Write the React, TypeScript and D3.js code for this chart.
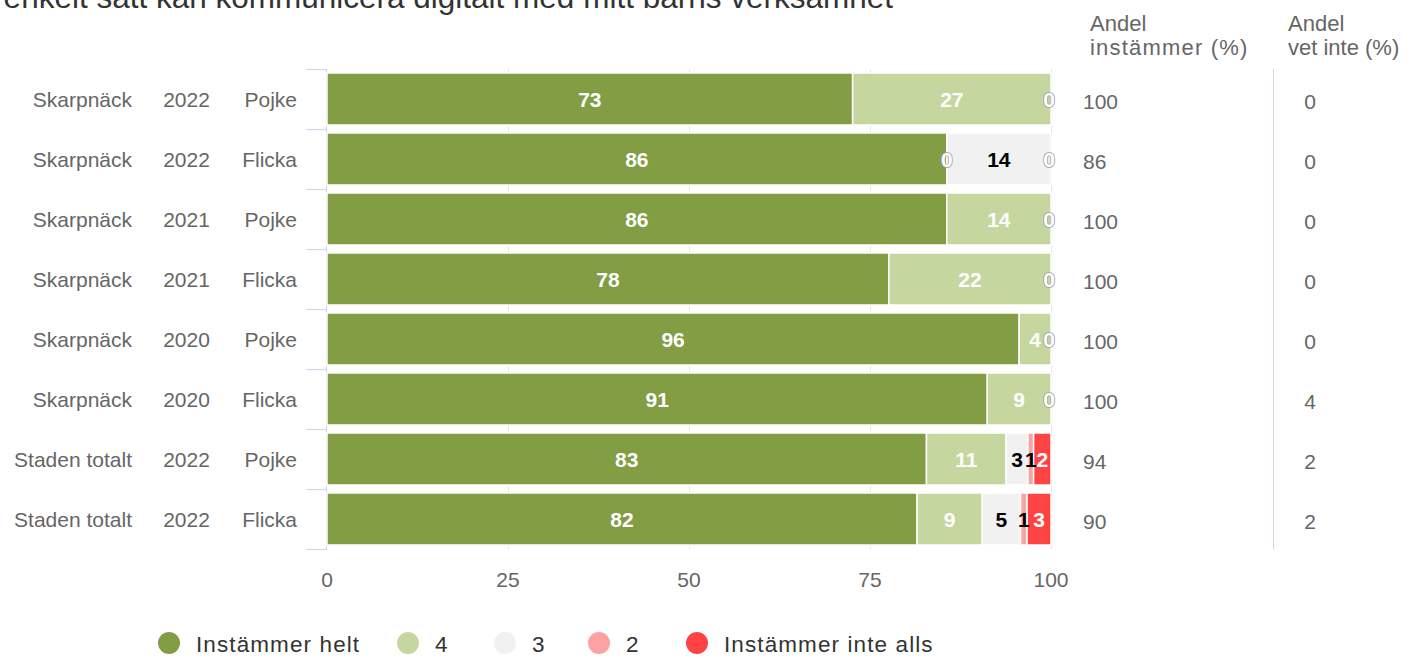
import React from "react";
import * as d3 from "d3";

const categoryRegion = ["Skarpnäck", "Skarpnäck", "Skarpnäck", "Skarpnäck", "Skarpnäck", "Skarpnäck", "Staden totalt", "Staden totalt"];
const categoryYear = ["2022", "2022", "2021", "2021", "2020", "2020", "2022", "2022"];
const categoryGender = ["Pojke", "Flicka", "Pojke", "Flicka", "Pojke", "Flicka", "Pojke", "Flicka"];

const seriesNames = ["Instämmer helt", "4", "3", "2", "Instämmer inte alls"];
const seriesColors = ["#829d44", "#c5d79e", "#f1f1f1", "#fba3a3", "#ff4343"];
const seriesLabelColors = ["#ffffff", "#ffffff", "#000000", "#000000", "#ffffff"];

const helt: (number | null)[] = [72.6, 85.6, 85.6, 77.6, 95.6, 91.2, 82.8, 81.5];
const fyra: (number | null)[] = [27.4, 0, 14.4, 22.4, 4.4, 8.8, 11.0, 9.0];
const tre: (number | null)[] = [null, 14.4, null, null, null, null, 3.0, 5.3];
const tva: (number | null)[] = [null, null, null, null, null, null, 0.8, 0.9];
const inteAlls: (number | null)[] = [0, 0, 0, 0, 0, 0, 2.4, 3.3];
const seriesValues = [helt, fyra, tre, tva, inteAlls];

const andelInstammer = [100, 86, 100, 100, 100, 100, 94, 90];
const andelVetInte = [0, 0, 0, 0, 0, 4, 2, 2];

const xTicks = [0, 25, 50, 75, 100];
const titleText = "Jag upplever att jag på ett enkelt sätt kan kommunicera digitalt med mitt barns verksamhet";

const FONT = "'Liberation Sans', Arial, Helvetica, sans-serif";

export default function App() {
  const W = 1412, H = 658;
  const plotLeft = 327, plotRight = 1051, plotTop = 69, plotBottom = 549;
  const x = d3.scaleLinear().domain([0, 100]).range([plotLeft, plotRight]);
  const y = d3.scaleBand<number>().domain(d3.range(categoryRegion.length)).range([plotTop, plotBottom]);
  const step = y.step();
  const barPad = 4;
  const barH = step - 2 * barPad;

  const segments: any[] = [];
  const labels: any[] = [];
  categoryRegion.forEach((_, i) => {
    let cum = 0;
    seriesValues.forEach((arr, s) => {
      const v = arr[i];
      if (v === null || v === undefined) return;
      const x0 = x(cum), x1 = x(cum + v);
      if (v > 0) {
        segments.push({ i, s, x0, x1 });
        labels.push({ i, s, cx: (x0 + x1) / 2, text: String(Math.round(v)), zero: false });
      } else {
        labels.push({ i, s, cx: Math.min(x0, plotRight - 2), text: "0", zero: true });
      }
      cum += v;
    });
  });

  const cy = (i: number) => (y(i) as number) + step / 2;
  const legendX = [169, 408, 505, 599, 697];

  return (
    <svg width={W} height={H} style={{ position: "absolute", left: 0, top: 0, background: "#fff" }} fontFamily={FONT}>
      <rect x={0} y={0} width={W} height={H} fill="#ffffff" />
      <text x={893} y={8} textAnchor="end" fontSize={31.5} fill="#333333">{titleText}</text>

      {/* gridlines */}
      {xTicks.slice(1).map((t) => (
        <line key={"g" + t} x1={Math.round(x(t)) + 0.5} x2={Math.round(x(t)) + 0.5} y1={plotTop} y2={plotBottom} stroke="#e6e6e6" strokeWidth={1} />
      ))}

      {/* left axis */}
      <line x1={326.5} x2={326.5} y1={plotTop} y2={plotBottom} stroke="#ccd6eb" strokeWidth={1} />
      {d3.range(categoryRegion.length + 1).map((k) => {
        const yy = plotTop + k * step;
        return <line key={"t" + k} x1={306} x2={327} y1={yy + 0.5} y2={yy + 0.5} stroke="#ccd6eb" strokeWidth={1} />;
      })}

      {/* right separator */}
      <line x1={1273.5} x2={1273.5} y1={plotTop} y2={plotBottom} stroke="#ccd6eb" strokeWidth={1} />

      {/* bars */}
      {segments.map((d, k) => (
        <rect key={"s" + k} x={d.x0} y={(y(d.i) as number) + barPad} width={d.x1 - d.x0} height={barH}
          fill={seriesColors[d.s]} stroke="#ffffff" strokeWidth={1.5} />
      ))}

      {/* data labels */}
      {labels.map((d, k) => (
        d.zero ? (
          <text key={"l" + k} x={d.cx} y={cy(d.i) + 7.5} textAnchor="middle" fontSize={21} fontWeight="bold"
            fill="#ffffff" stroke="#9a9a9a" strokeWidth={1.6} style={{ paintOrder: "stroke" }}>{d.text}</text>
        ) : (
          <text key={"l" + k} x={d.cx} y={cy(d.i) + 7.5} textAnchor="middle" fontSize={21} fontWeight="bold"
            fill={seriesLabelColors[d.s]}>{d.text}</text>
        )
      ))}

      {/* category labels */}
      {categoryRegion.map((r, i) => (
        <g key={"c" + i} fontSize={21} fill="#666666">
          <text x={132} y={cy(i) + 7.5} textAnchor="end">{r}</text>
          <text x={186.5} y={cy(i) + 7.5} textAnchor="middle">{categoryYear[i]}</text>
          <text x={297} y={cy(i) + 7.5} textAnchor="end">{categoryGender[i]}</text>
        </g>
      ))}

      {/* x axis labels */}
      {xTicks.map((t) => (
        <text key={"x" + t} x={x(t)} y={587} textAnchor="middle" fontSize={21} fill="#666666">{t}</text>
      ))}

      {/* right columns */}
      <g fontSize={22} fill="#666666">
        <text x={1090} y={31}>Andel</text>
        <text x={1090} y={55} letterSpacing={1.2}>instämmer (%)</text>
        <text x={1288} y={31}>Andel</text>
        <text x={1288} y={55}>vet inte (%)</text>
      </g>
      {andelInstammer.map((v, i) => (
        <text key={"a" + i} x={1083} y={cy(i) + 10} fontSize={21} fill="#666666">{v}</text>
      ))}
      {andelVetInte.map((v, i) => (
        <text key={"v" + i} x={1310} y={cy(i) + 10} textAnchor="middle" fontSize={21} fill="#666666">{v}</text>
      ))}

      {/* legend */}
      {seriesNames.map((n, s) => (
        <g key={"lg" + s}>
          <circle cx={legendX[s]} cy={643} r={11} fill={seriesColors[s]} />
          <text x={legendX[s] + 27} y={652} fontSize={22.5} letterSpacing={1.1} fill="#333333">{n}</text>
        </g>
      ))}
    </svg>
  );
}
